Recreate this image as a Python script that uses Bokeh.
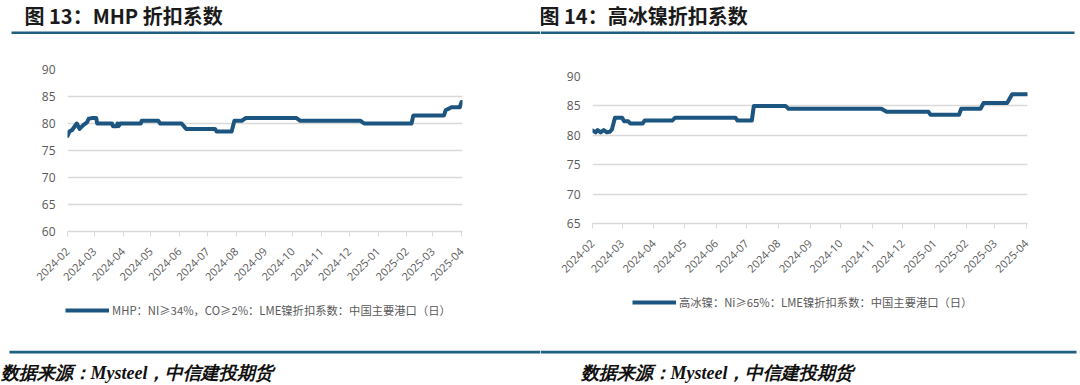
import pandas as pd
from math import pi
from bokeh.plotting import figure
from bokeh.models import (ColumnDataSource, Range1d, FixedTicker, DatetimeTickFormatter,
                          Legend, LegendItem, Label, BoxAnnotation)
from bokeh.layouts import column, row
from bokeh.embed import file_html
from bokeh.resources import INLINE

# ---------------- data ----------------
months = ["2024-02", "2024-03", "2024-04", "2024-05", "2024-06", "2024-07", "2024-08",
          "2024-09", "2024-10", "2024-11", "2024-12", "2025-01", "2025-02", "2025-03", "2025-04"]

mhp_dates = ["2024-02-01", "2024-02-03", "2024-02-06", "2024-02-11", "2024-02-14", "2024-02-18",
             "2024-02-22", "2024-02-24", "2024-02-28", "2024-03-03", "2024-03-04", "2024-03-20",
             "2024-03-21", "2024-03-25", "2024-03-26", "2024-03-27", "2024-03-29", "2024-04-20",
             "2024-04-21", "2024-05-09", "2024-05-11", "2024-06-03", "2024-06-08", "2024-07-09",
             "2024-07-11", "2024-07-27", "2024-07-30", "2024-08-07", "2024-08-11", "2024-10-05",
             "2024-10-09", "2024-12-13", "2024-12-17", "2025-02-06", "2025-02-08", "2025-03-13",
             "2025-03-15", "2025-03-19", "2025-03-21", "2025-03-30", "2025-04-01", "2025-04-02"]
mhp_values = [77.7, 78.5, 78.8, 80.0, 79.0, 79.7,
              80.2, 80.9, 81.0, 81.0, 80.0, 80.0,
              79.5, 79.5, 80.0, 79.5, 80.0, 80.0,
              80.5, 80.5, 80.0, 80.0, 79.0, 79.0,
              78.5, 78.5, 80.5, 80.5, 81.0, 81.0,
              80.5, 80.5, 80.0, 80.0, 81.5, 81.5,
              82.5, 82.8, 83.0, 83.0, 84.0, 84.0]

hn_dates = ["2024-02-01", "2024-02-04", "2024-02-06", "2024-02-09", "2024-02-12", "2024-02-15",
            "2024-02-18", "2024-02-20", "2024-02-23", "2024-03-01", "2024-03-03", "2024-03-07",
            "2024-03-09", "2024-03-21", "2024-03-23", "2024-04-19", "2024-04-22", "2024-06-20",
            "2024-06-22", "2024-07-06", "2024-07-08", "2024-08-08", "2024-08-11", "2024-11-10",
            "2024-11-15", "2024-12-26", "2024-12-28", "2025-01-25", "2025-01-27", "2025-02-15",
            "2025-02-18", "2025-03-13", "2025-03-18", "2025-04-02"]
hn_values = [80.8, 80.5, 80.9, 80.5, 80.9, 80.5,
             80.6, 81.0, 83.0, 83.0, 82.4, 82.4,
             82.0, 82.0, 82.5, 82.5, 83.0, 83.0,
             82.5, 82.5, 85.0, 85.0, 84.5, 84.5,
             84.0, 84.0, 83.5, 83.5, 84.5, 84.5,
             85.5, 85.5, 87.0, 87.0]

mhp_yticks = [60, 65, 70, 75, 80, 85, 90]
hn_yticks = [65, 70, 75, 80, 85, 90]

mhp_title = "图 13：MHP 折扣系数"
hn_title = "图 14：高冰镍折扣系数"
mhp_label = "MHP：NI≥34%，CO≥2%：LME镍折扣系数：中国主要港口（日）"
hn_label = "高冰镍：Ni≥65%：LME镍折扣系数：中国主要港口（日）"
source_note = "数据来源：Mysteel，中信建投期货"

# ---------------- style ----------------
LINE = "#1c5580"
RULE = "#1f5f7f"
GRID = "#d9d9d9"
TXT = "#595959"
X_START = pd.Timestamp("2024-02-01")
X_END = pd.Timestamp("2025-04-02")
PW = 540

month_ticks = [int(pd.Timestamp(m + "-01").value // 10**6) for m in months]


def deco_fig(height, txt, tx, ty, font, size, style, color, rule_l, rule_r, rule_b, rule_t):
    """A plain strip (no axes) holding a caption text and a horizontal rule."""
    f = figure(width=PW, height=height, output_backend="svg", toolbar_location=None,
               x_axis_location=None, y_axis_location=None,
               x_range=Range1d(0, PW), y_range=Range1d(0, height),
               min_border_left=0, min_border_right=0, min_border_top=0, min_border_bottom=0,
               frame_align=False)
    f.grid.visible = False
    f.outline_line_color = None
    f.background_fill_color = "white"
    f.border_fill_color = "white"
    f.add_layout(BoxAnnotation(left=rule_l, right=rule_r, bottom=rule_b, top=rule_t,
                               fill_color=RULE, fill_alpha=1.0, line_color=None))
    f.add_layout(Label(x=tx, y=ty, text=txt, text_font=font, text_font_size=size,
                       text_font_style=style, text_color=color,
                       text_baseline="middle", text_align="left"))
    return f


def make_fig(src, yticks, bl, br, bt, bb):
    p = figure(width=PW, height=257, x_axis_type="datetime",
               output_backend="svg", toolbar_location=None,
               x_range=Range1d(X_START, X_END),
               y_range=Range1d(yticks[0], yticks[-1]),
               min_border_left=bl, min_border_right=br,
               min_border_top=bt, min_border_bottom=bb, frame_align=False)
    p.line("x", "y", source=src, line_width=4, line_color=LINE,
           line_join="round", line_cap="round")
    p.outline_line_color = None

    xa = p.xaxis[0]
    xa.ticker = FixedTicker(ticks=month_ticks)
    fmt = "%Y-%m"
    xa.formatter = DatetimeTickFormatter(
        microseconds=fmt, milliseconds=fmt, seconds=fmt, minsec=fmt, minutes=fmt,
        hourmin=fmt, hours=fmt, days=fmt, months=fmt, years=fmt)
    xa.major_label_orientation = pi / 4
    xa.axis_line_color = GRID
    xa.axis_line_width = 1.5
    xa.major_tick_line_color = GRID
    xa.major_tick_out = 5
    xa.major_tick_in = 0
    xa.minor_tick_line_color = None
    xa.major_label_text_font = "Open Sans"
    xa.major_label_text_font_size = "11px"
    xa.major_label_text_color = TXT
    xa.major_label_standoff = 13

    ya = p.yaxis[0]
    ya.ticker = FixedTicker(ticks=yticks)
    ya.axis_line_color = None
    ya.major_tick_line_color = None
    ya.minor_tick_line_color = None
    ya.major_tick_out = 0
    ya.major_tick_in = 0
    ya.major_label_text_font = "Open Sans"
    ya.major_label_text_font_size = "12px"
    ya.major_label_text_color = TXT
    ya.major_label_standoff = 12

    p.xgrid.grid_line_color = None
    p.ygrid.ticker = FixedTicker(ticks=yticks)
    p.ygrid.grid_line_color = GRID
    p.ygrid.grid_line_width = 1.5
    return p


def legend_fig(src, label, lx, ly):
    f = figure(width=PW, height=59, output_backend="svg", toolbar_location=None,
               x_axis_location=None, y_axis_location=None,
               x_range=Range1d(X_START, X_END), y_range=Range1d(0, 1),
               min_border_left=0, min_border_right=0, min_border_top=0, min_border_bottom=0,
               frame_align=False)
    f.grid.visible = False
    f.outline_line_color = None
    r = f.line("x", "y", source=src, line_width=4, line_color=LINE)
    f.add_layout(Legend(items=[LegendItem(label=label, renderers=[r])],
                        location=(lx, ly), orientation="horizontal",
                        border_line_color=None, background_fill_alpha=0,
                        padding=0, margin=0, glyph_width=44, glyph_height=14,
                        label_standoff=3, label_text_font="Noto Sans CJK SC",
                        label_text_font_size="11.3px", label_text_color=TXT))
    return f


mhp_src = ColumnDataSource(dict(x=pd.to_datetime(mhp_dates), y=mhp_values))
hn_src = ColumnDataSource(dict(x=pd.to_datetime(hn_dates), y=hn_values))

TFONT = "Noto Sans CJK SC"
FFONT = "Liberation Serif"

left = column(
    deco_fig(34, mhp_title, 24, 19.4, TFONT, "20px", "bold", "#1a1a1a", 11, PW, 0, 3),
    make_fig(mhp_src, mhp_yticks, 67, 78, 35, 60),
    legend_fig(mhp_src, mhp_label, 65, 32),
    deco_fig(35, source_note, 0, 13, FFONT, "18px", "bold italic", "#111111", 9, PW, 32, 35),
    spacing=0)

right = column(
    deco_fig(34, hn_title, -1, 19.4, TFONT, "20px", "bold", "#1a1a1a", 0, PW - 6, 0, 3),
    make_fig(hn_src, hn_yticks, 52, 53, 42, 68),
    legend_fig(hn_src, hn_label, 92, 40),
    deco_fig(35, source_note, 40, 13, FFONT, "18px", "bold italic", "#111111", 0, PW - 4, 32, 35),
    spacing=0)

layout = row(left, right, spacing=0)

open("out.html", "w").write(file_html(layout, INLINE))
